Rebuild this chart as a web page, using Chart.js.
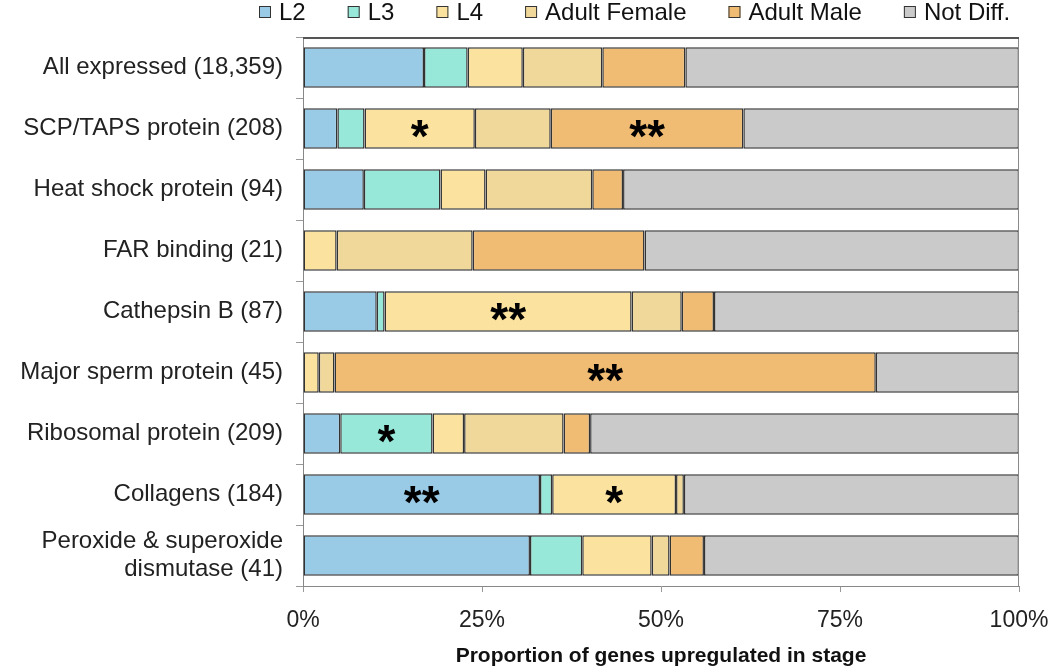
<!DOCTYPE html>
<html>
<head>
<meta charset="utf-8">
<script src="https://cdn.jsdelivr.net/npm/chart.js@4.4.1/dist/chart.umd.min.js"></script>
<style>
  html, body { margin: 0; padding: 0; background: #fff; }
</style>
</head>
<body>
<canvas id="myChart" width="1050" height="669"></canvas>
<script>
const categories = [
  'All expressed (18,359)',
  'SCP/TAPS protein (208)',
  'Heat shock protein (94)',
  'FAR binding (21)',
  'Cathepsin B (87)',
  'Major sperm protein (45)',
  'Ribosomal protein (209)',
  'Collagens (184)',
  ['Peroxide & superoxide', 'dismutase (41)']
];

// % of genes upregulated in each stage
const l2          = [16.9, 4.8,  8.5,  0,    10.3, 0,    5.2,  33.1, 31.7];
const l3          = [6.1,  3.8,  10.7, 0,    1.1,  0,    12.9, 1.7,  7.3];
const l4          = [7.7,  15.4, 6.3,  4.7,  34.5, 2.2,  4.4,  17.3, 9.7];
const adultFemale = [11.1, 10.6, 14.9, 19.0, 7.0,  2.2,  13.9, 1.1,  2.5];
const adultMale   = [11.6, 26.9, 4.3,  24.0, 4.5,  75.6, 3.7,  0,    4.8];
const notDiff     = [46.6, 38.5, 55.3, 52.3, 42.6, 20.0, 59.9, 46.8, 44.0];

const xTicks = [0, 25, 50, 75, 100];

// significance marks: row index, stage index (0 = L2 ... 5 = Not Diff.)
const stars = [
  { row: 1, stage: 2, mark: '*' },
  { row: 1, stage: 4, mark: '**' },
  { row: 4, stage: 2, mark: '**' },
  { row: 5, stage: 4, mark: '**' },
  { row: 6, stage: 1, mark: '*' },
  { row: 7, stage: 0, mark: '**' },
  { row: 7, stage: 2, mark: '*' }
];

const FONT = "'Liberation Sans', Arial, sans-serif";

const legendPlugin = {
  id: 'topLegend',
  afterDraw(chart) {
    const c = chart.ctx;
    c.save();
    c.font = '24px ' + FONT;
    c.textBaseline = 'middle';
    let x = 259;
    const y = 12;
    chart.data.datasets.forEach(ds => {
      c.fillStyle = ds.backgroundColor;
      c.fillRect(x, y - 6, 12, 12);
      c.strokeStyle = '#333';
      c.lineWidth = 1;
      c.strokeRect(x + 0.5, y - 5.5, 11, 11);
      c.fillStyle = '#111';
      c.fillText(ds.label, x + 20, y + 1);
      x += 20 + c.measureText(ds.label).width + 42;
    });
    c.restore();
  }
};

const framePlugin = {
  id: 'frame',
  afterDatasetsDraw(chart) {
    const a = chart.chartArea;
    const c = chart.ctx;
    c.save();
    c.strokeStyle = '#8a8a8a';
    c.lineWidth = 1;
    c.beginPath();
    c.moveTo(a.right - 0.5, a.top);
    c.lineTo(a.right - 0.5, a.bottom);
    c.stroke();
    c.strokeStyle = '#555';
    c.lineWidth = 2;
    c.beginPath();
    c.moveTo(a.left, a.top + 1);
    c.lineTo(a.right, a.top + 1);
    c.stroke();
    c.restore();
  }
};

const starPlugin = {
  id: 'stars',
  afterDatasetsDraw(chart) {
    const c = chart.ctx;
    c.save();
    c.font = 'bold 46px ' + FONT;
    c.fillStyle = '#000';
    c.textAlign = 'center';
    c.textBaseline = 'alphabetic';
    stars.forEach(s => {
      const bar = chart.getDatasetMeta(s.stage).data[s.row];
      const p = bar.getCenterPoint();
      const m = c.measureText(s.mark);
      const yb = p.y + (m.actualBoundingBoxAscent - m.actualBoundingBoxDescent) / 2;
      c.fillText(s.mark, p.x, yb);
    });
    c.restore();
  }
};

const ctx = document.getElementById('myChart');

new Chart(ctx, {
  type: 'bar',
  data: {
    labels: categories,
    datasets: [
      { label: 'L2', data: l2, backgroundColor: '#9acbe6' },
      { label: 'L3', data: l3, backgroundColor: '#98e8da' },
      { label: 'L4', data: l4, backgroundColor: '#fce29f' },
      { label: 'Adult Female', data: adultFemale, backgroundColor: '#f0d79a' },
      { label: 'Adult Male', data: adultMale, backgroundColor: '#f0bb72' },
      { label: 'Not Diff.', data: notDiff, backgroundColor: '#cacaca' }
    ].map(d => Object.assign(d, {
      borderColor: '#333',
      borderWidth: 1.5,
      borderSkipped: false,
      barPercentage: 0.66,
      categoryPercentage: 1
    }))
  },
  options: {
    indexAxis: 'y',
    responsive: false,
    animation: false,
    devicePixelRatio: 1,
    layout: { padding: { top: 37, right: 31, left: 0, bottom: 0 } },
    plugins: {
      legend: { display: false },
      tooltip: { enabled: false }
    },
    scales: {
      x: {
        stacked: true,
        min: 0,
        max: 100,
        afterBuildTicks: s => { s.ticks = xTicks.map(v => ({ value: v })); },
        afterFit: s => { s.height = 83; s.paddingRight = 0; s.paddingLeft = 0; },
        ticks: {
          callback: v => v + '%',
          font: { family: FONT, size: 23 },
          color: '#222',
          padding: 15,
          maxRotation: 0
        },
        grid: { drawOnChartArea: false, tickLength: 6, color: '#999' },
        border: { color: '#888' },
        title: {
          display: true,
          text: 'Proportion of genes upregulated in stage',
          font: { family: FONT, size: 21, weight: 'bold' },
          color: '#111',
          padding: { top: 4, bottom: 0 }
        }
      },
      y: {
        stacked: true,
        afterFit: s => { s.width = 303; s.paddingTop = 0; s.paddingBottom = 0; },
        ticks: {
          font: { family: FONT, size: 24, lineHeight: 1.15 },
          color: '#222',
          padding: 13
        },
        grid: { offset: true, drawOnChartArea: false, tickLength: 7, color: '#999' },
        border: { color: '#888' }
      }
    }
  },
  plugins: [legendPlugin, framePlugin, starPlugin]
});
</script>
</body>
</html>
